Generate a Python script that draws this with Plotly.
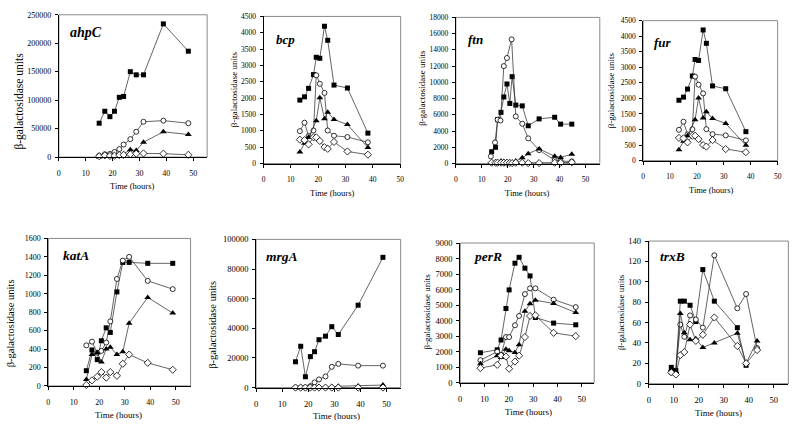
import plotly.graph_objects as go

# ---------------- data ----------------
ahpC_t = [15.0, 17.1, 19.0, 20.7, 22.5, 24.1, 26.6, 28.8, 31.5, 38.9, 48.2]
ahpC_sq = [59500, 80500, 71000, 80500, 105000, 106500, 150000, 144500, 144500, 234000, 186000]
ahpC_ci = [2500, 5000, 5500, 9000, 14000, 22000, 31500, 44500, 62000, 64000, 59500]
ahpC_tr = [0, 1000, 2000, 2000, 3000, 5500, 13000, 11500, 26000, 44500, 39500]
ahpC_di = [1500, 3000, 2000, 2500, 3500, 4000, 5000, 6000, 6500, 6000, 4000]

bcp_t = [13.3, 15.0, 16.5, 18.3, 19.3, 20.6, 22.3, 23.5, 25.8, 30.7, 38.2]
bcp_t_tr = [13.3, 15.0, 16.5, 19.3, 20.6, 22.3, 23.5, 25.8, 30.7, 38.2]
bcp_sq = [1940, 2040, 2300, 2720, 3250, 3220, 4200, 3770, 2400, 2310, 930]
bcp_ci = [990, 1250, 840, 1010, 2700, 2440, 2160, 1010, 850, 810, 650]
bcp_tr = [350, 620, 800, 1310, 2010, 1370, 1570, 1350, 1190, 490]
bcp_di = [730, 715, 585, 800, 800, 690, 500, 450, 660, 370, 270]

ftn_t = [13.8, 15.3, 16.1, 17.4, 18.5, 19.7, 20.8, 21.7, 23.1, 25.6, 27.9, 32.1, 38.1, 40.4, 44.7]
ftn_sq = [1450, 2000, 5400, 6300, 8200, 9800, 7400, 10700, 7200, 7100, 4650, 5500, 5700, 4850, 4850]
ftn_t_ci = [13.5, 15.1, 16.1, 17.2, 18.5, 19.7, 21.5, 23.1, 25.6, 27.9, 32.1, 38.1, 40.4, 44.7]
ftn_ci = [880, 2600, 5400, 5300, 12000, 13000, 15300, 5800, 4900, 3100, 1650, 400, 300, 250]
ftn_tr = [100, 150, 150, 300, 250, 200, 150, 50, 300, 700, 1200, 1800, 900, 750, 1150]
ftn_di = [100, 100, 100, 100, 100, 100, 80, 50, 100, 100, 50, 50, 100, 100, 150]

fur_t = [13.3, 15.0, 16.5, 18.3, 19.3, 20.6, 22.3, 23.5, 25.8, 30.7, 38.2]
fur_t_tr = [13.3, 15.0, 16.5, 19.3, 20.6, 22.3, 23.5, 25.8, 30.7, 38.2]
fur_sq = [1940, 2040, 2300, 2720, 3250, 3220, 4200, 3770, 2400, 2310, 930]
fur_ci = [990, 1250, 840, 1010, 2700, 2440, 2160, 1010, 850, 810, 650]
fur_tr = [350, 620, 800, 1310, 2010, 1370, 1570, 1350, 1190, 490]
fur_di = [730, 715, 585, 800, 800, 690, 500, 450, 660, 370, 270]

katA_t = [14.9, 17.1, 19.2, 20.8, 22.7, 24.3, 26.9, 29.2, 31.7, 39.0, 48.8]
katA_sq = [165, 390, 285, 490, 630, 580, 1020, 1340, 1340, 1330, 1330]
katA_ci = [440, 480, 360, 380, 470, 700, 1160, 1360, 1400, 1140, 1050]
katA_tr = [70, 340, 360, 260, 400, 420, 340, 370, 680, 960, 790]
katA_di = [10, 60, 100, 150, 90, 150, 110, 240, 340, 250, 175]

mrgA_t = [15.1, 17.1, 18.9, 20.8, 22.4, 24.1, 26.6, 29.0, 31.5, 39.1, 48.6]
mrgA_sq = [17400, 27900, 7300, 20900, 24200, 32300, 34700, 41100, 35800, 55600, 87900]
mrgA_ci = [0, 0, 0, 1000, 3500, 5500, 7500, 14000, 16000, 14800, 14800]
mrgA_tr = [0, 0, 0, 0, 0, 200, 300, 500, 900, 1100, 1700]
mrgA_di = [0, 0, 0, 0, 0, 0, 0, 0, 0, 0, 0]

perR_t = [8.3, 15.2, 16.8, 18.8, 20.1, 22.5, 24.2, 26.6, 28.7, 30.9, 38.4, 47.5]
perR_sq = [1930, 2120, 2750, 4780, 5980, 7700, 8080, 7380, 6880, 4200, 3840, 3730]
perR_ci = [1450, 2000, 1800, 2940, 2940, 3700, 4300, 5710, 6080, 6080, 5350, 4870]
perR_tr = [1220, 1740, 1620, 2160, 2060, 1950, 2450, 4600, 5080, 5320, 5100, 4520]
perR_di = [940, 1150, 1740, 1680, 900, 1360, 1740, 2940, 4300, 4340, 3210, 3000]

trxB_t = [9.0, 10.8, 12.6, 14.2, 16.5, 18.8, 21.6, 26.2, 35.4, 38.9, 43.3]
trxB_t_sq = [9.0, 10.8, 12.6, 14.2, 16.5, 18.8, 21.6, 26.2, 35.4, 38.9]
trxB_sq = [16, 13, 81, 81, 77, 61, 112, 81, 55, 18]
trxB_ci = [11, 10, 58, 46, 67, 63, 55, 126, 74, 88, 35]
trxB_tr = [14, 12, 69, 50, 43, 44, 35.5, 40, 49.5, 20, 42]
trxB_di = [11, 9, 28, 31, 58, 42, 48, 65, 37, 20, 33]

x_ticks = [0, 10, 20, 30, 40, 50]
y_title = "β-galactosidase units"
x_title = "Time (hours)"

# ---------------- styling / layout ----------------
W, H = 800, 429
FONT = "Liberation Serif"

STYLE = {
    "sq": dict(symbol="square", size=5, color="black"),
    "ci": dict(symbol="circle", size=5, color="white", line=dict(color="black", width=0.8)),
    "tr": dict(symbol="triangle-up", size=6, color="black"),
    "di": dict(symbol="diamond", size=5.5, color="white", line=dict(color="black", width=0.8)),
}

panels = [
    dict(name="ahpC", box=(57.3, 206.7, 10.0, 155.7), xmax=55.2, ymax=250000, dtick=50000,
         series=[(ahpC_t, ahpC_sq, "sq"), (ahpC_t, ahpC_ci, "ci"), (ahpC_t, ahpC_tr, "tr"), (ahpC_t, ahpC_di, "di")],
         ylab=(18, 98, 11.5), xlab=(131, 185, 8.5), gene=(84.5, 28, 14), tick=8),
    dict(name="bcp", box=(263.5, 401.7, 11.7, 162.3), xmax=50.2, ymax=4500, dtick=500,
         series=[(bcp_t, bcp_sq, "sq"), (bcp_t, bcp_ci, "ci"), (bcp_t_tr, bcp_tr, "tr"), (bcp_t, bcp_di, "di")],
         ylab=(234, 86, 9), xlab=(332.5, 192, 8.5), gene=(286, 35, 13), tick=7.5),
    dict(name="ftn", box=(457.3, 602.3, 12.7, 162.3), xmax=55.5, ymax=18000, dtick=2000,
         series=[(ftn_t, ftn_sq, "sq"), (ftn_t_ci, ftn_ci, "ci"), (ftn_t, ftn_tr, "tr"), (ftn_t, ftn_di, "di")],
         ylab=(423, 85, 9), xlab=(529, 192, 8.5), gene=(477.5, 35, 13), tick=7.5),
    dict(name="fur", box=(646.0, 781.5, 16.0, 159.3), xmax=50.0, ymax=4500, dtick=500,
         series=[(fur_t, fur_sq, "sq"), (fur_t, fur_ci, "ci"), (fur_t_tr, fur_tr, "tr"), (fur_t, fur_di, "di")],
         ylab=(614, 87, 9), xlab=(714.7, 189, 8.5), gene=(666, 38, 13), tick=7.5),
    dict(name="katA", box=(46.7, 190.0, 239.0, 390.0), xmax=55.8, ymax=1600, dtick=200,
         series=[(katA_t, katA_sq, "sq"), (katA_t, katA_ci, "ci"), (katA_t, katA_tr, "tr"), (katA_t, katA_di, "di")],
         ylab=(8, 326, 10.5), xlab=(117, 420, 9), gene=(75, 256, 13.5), tick=8),
    dict(name="mrgA", box=(256.0, 401.7, 240.0, 391.7), xmax=55.4, ymax=100000, dtick=20000,
         series=[(mrgA_t, mrgA_sq, "sq"), (mrgA_t, mrgA_ci, "ci"), (mrgA_t, mrgA_tr, "tr"), (mrgA_t, mrgA_di, "di")],
         ylab=(212, 327, 10.5), xlab=(337.5, 421, 9), gene=(282, 257, 13.5), tick=8.5),
    dict(name="perR", box=(461.7, 596.7, 243.7, 386.7), xmax=55.1, ymax=9000, dtick=1000,
         series=[(perR_t, perR_sq, "sq"), (perR_t, perR_ci, "ci"), (perR_t, perR_tr, "tr"), (perR_t, perR_di, "di")],
         ylab=(428, 314, 9), xlab=(530, 417, 9), gene=(490, 258, 13.5), tick=8.5),
    dict(name="trxB", box=(651.7, 792.3, 241.7, 387.7), xmax=55.8, ymax=140, dtick=20,
         series=[(trxB_t_sq, trxB_sq, "sq"), (trxB_t, trxB_ci, "ci"), (trxB_t, trxB_tr, "tr"), (trxB_t, trxB_di, "di")],
         ylab=(623, 314, 9), xlab=(721.7, 418, 9), gene=(676, 258, 13.5), tick=8.5),
]

fig = go.Figure()
annotations = []
shapes = []
layout_axes = {}

for i, p in enumerate(panels, start=1):
    xa = "x" if i == 1 else f"x{i}"
    ya = "y" if i == 1 else f"y{i}"
    L, R, T, B = p["box"]
    for xs, ys, kind in p["series"]:
        fig.add_trace(go.Scatter(
            x=xs, y=ys, mode="lines+markers", xaxis=xa, yaxis=ya,
            line=dict(color="#222222", width=0.7),
            marker=STYLE[kind], showlegend=False, cliponaxis=False,
        ))
    tickfont = dict(family=FONT, size=p["tick"], color="black")
    layout_axes[f"xaxis{'' if i == 1 else i}"] = dict(
        domain=[L / W, R / W], range=[0, p["xmax"]], anchor=ya,
        tickvals=x_ticks, ticks="outside", ticklen=3, tickcolor="black",
        showline=True, linecolor="black", linewidth=1, showgrid=False, zeroline=False,
        tickfont=tickfont, ticklabelstandoff=5,
    )
    layout_axes[f"yaxis{'' if i == 1 else i}"] = dict(
        domain=[1 - B / H, 1 - T / H], range=[0, p["ymax"]], anchor=xa,
        dtick=p["dtick"], tick0=0, tickformat="d", ticks="outside", ticklen=3, tickcolor="black",
        showline=True, linecolor="black", linewidth=1, showgrid=False, zeroline=False,
        tickfont=tickfont, ticklabelstandoff=2,
    )
    shapes.append(dict(type="rect", xref="paper", yref="paper",
                       x0=L / W, x1=R / W, y0=1 - B / H, y1=1 - T / H,
                       line=dict(color="#8a8a8a", width=1), layer="below"))
    gx, gy, gs = p["gene"]
    annotations.append(dict(x=gx / W, y=1 - gy / H, xref="paper", yref="paper",
                            text=f"<b><i>{p['name']}</i></b>", showarrow=False,
                            xanchor="center", yanchor="middle",
                            font=dict(family=FONT, size=gs, color="black")))
    yx, yy, ys_ = p["ylab"]
    annotations.append(dict(x=yx / W, y=1 - yy / H, xref="paper", yref="paper",
                            text=y_title, textangle=-90, showarrow=False,
                            xanchor="center", yanchor="middle",
                            font=dict(family=FONT, size=ys_, color="black")))
    tx, ty, ts = p["xlab"]
    annotations.append(dict(x=tx / W, y=1 - ty / H, xref="paper", yref="paper",
                            text=x_title, showarrow=False,
                            xanchor="center", yanchor="middle",
                            font=dict(family=FONT, size=ts, color="black")))

fig.update_layout(
    width=W, height=H, margin=dict(l=0, r=0, t=0, b=0),
    paper_bgcolor="white", plot_bgcolor="white",
    font=dict(family=FONT, color="black"),
    hovermode=False,
    annotations=annotations, shapes=shapes, **layout_axes,
)

fig.write_html("out.html", config={"displayModeBar": False},
               post_script="document.body.style.margin='0px';")
